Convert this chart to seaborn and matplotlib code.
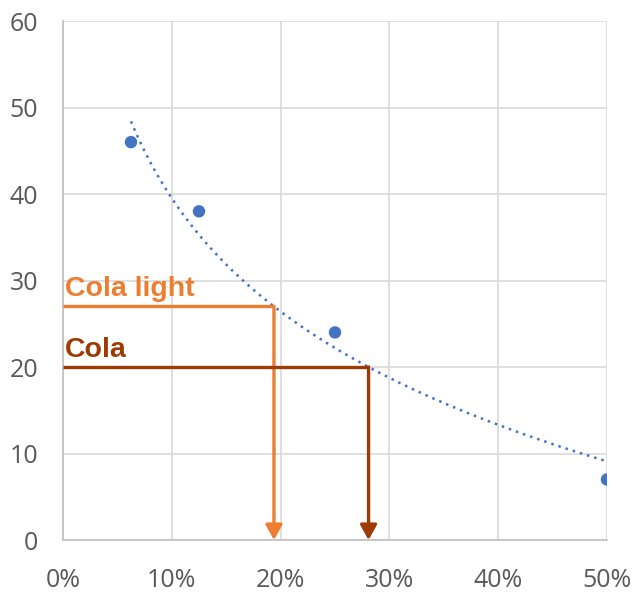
import numpy as np
import pandas as pd
import seaborn as sns
import matplotlib.pyplot as plt
from matplotlib.ticker import PercentFormatter

# Datos
share = [0.0625, 0.125, 0.25, 0.5]
value = [46, 38, 24, 7]
products = ['Cola light', 'Cola']
product_level = [27, 20]
product_colors = ['#ED7D31', '#9E3A03']

df = pd.DataFrame({'share': share, 'value': value})

# Tendencia logaritmica (como en Excel)
b, a = np.polyfit(np.log(df['share']), df['value'], 1)
xs = np.linspace(min(share), max(share), 200)
trend = pd.DataFrame({'share': xs, 'value': a + b * np.log(xs)})

sns.set_style('white')
plt.rcParams['font.family'] = ['Open Sans', 'DejaVu Sans']

fig = plt.figure(figsize=(6.44, 5.92), dpi=100)
ax = fig.add_axes([0.0978, 0.0878, 0.8447, 0.8767])

sns.lineplot(data=trend, x='share', y='value', ax=ax, color='#4472C4',
             linestyle=(0, (1, 2)), linewidth=1.8, zorder=3)
sns.scatterplot(data=df, x='share', y='value', ax=ax, color='#4472C4',
                s=80, edgecolor='none', zorder=4)

# Lineas de producto con flechas hacia el eje x
for name, level, col in zip(products, product_level, product_colors):
    x_hit = np.exp((level - a) / b)
    ax.plot([0, x_hit], [level, level], color=col, linewidth=2.4,
            solid_capstyle='butt', zorder=5)
    ax.annotate('', xy=(x_hit, 0), xytext=(x_hit, level),
                arrowprops=dict(arrowstyle='-|>,head_length=0.9,head_width=0.5',
                                color=col, linewidth=2.4, shrinkA=0, shrinkB=0),
                zorder=5)
    ax.text(0.002, level + 0.5, name, color=col, fontsize=20.5, fontweight='bold',
            family=['Liberation Sans', 'DejaVu Sans'], ha='left', va='bottom', zorder=6)

ax.set_xlim(0, 0.5)
ax.set_ylim(0, 60)
ax.set_xticks([0, 0.1, 0.2, 0.3, 0.4, 0.5])
ax.set_yticks(range(0, 61, 10))
ax.xaxis.set_major_formatter(PercentFormatter(1.0, decimals=0))
ax.grid(True, color='#d9d9d9', linewidth=1.2)
ax.set_axisbelow(True)
for side in ['top', 'right']:
    ax.spines[side].set_visible(False)
for side in ['left', 'bottom']:
    ax.spines[side].set_color('#bfbfbf')
    ax.spines[side].set_linewidth(1.2)
ax.tick_params(axis='both', length=0, labelsize=18, labelcolor='#595959')
ax.tick_params(axis='x', pad=20)
ax.tick_params(axis='y', pad=18)
ax.set_xlabel('')
ax.set_ylabel('')

plt.savefig('out.png', dpi=100)
